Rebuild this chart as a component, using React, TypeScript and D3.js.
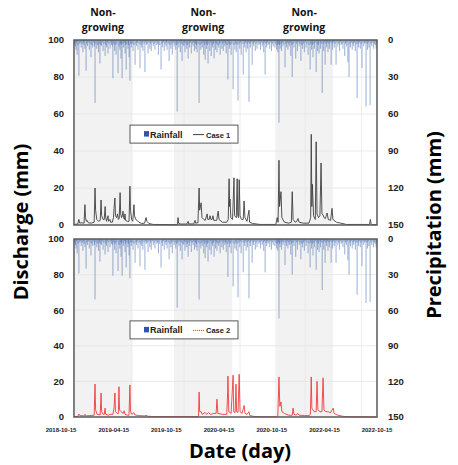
import React from 'react';
import * as d3 from 'd3';

// day 0 = 2018-10-15
const dateLabels = ['2018-10-15', '2019-04-15', '2019-10-15', '2020-04-15', '2020-10-15', '2022-04-15', '2022-10-15'];
const dateLabelDays = [0, 183, 365, 548, 731, 914, 1096];
const nonGrowing = [[45, 246], [392, 594], [743, 944]];
const gridDays = [246, 427, 621, 847, 1042];
const dischargeTicks = [0, 20, 40, 60, 80, 100];
const precipTicks = [0, 30, 60, 90, 120, 150];

// [day, mm]
const rainfall = [
  [47, 3], [50, 5], [52, 8], [54, 2], [56, 12], [59, 4], [62, 29], [65, 3], [67, 2], [70, 6], [73, 3], [76, 10], [78, 2], [80, 4], [83, 7],
  [87, 25], [89, 3], [92, 5], [95, 2], [98, 8], [101, 3], [104, 14], [107, 4], [110, 6], [113, 2], [116, 5], [118, 51], [121, 3], [124, 7],
  [127, 4], [130, 10], [133, 3], [135, 19], [138, 4], [140, 5], [143, 2], [146, 9], [149, 3], [153, 13], [155, 4], [158, 6], [161, 2],
  [163, 11], [166, 3], [170, 7], [173, 2], [175, 4], [178, 5], [180, 31], [183, 3], [186, 9], [188, 4], [191, 12], [194, 3], [198, 27],
  [201, 5], [204, 8], [206, 3], [208, 15], [210, 4], [212, 31], [215, 3], [217, 6], [220, 2], [222, 11], [224, 4], [226, 24], [229, 3],
  [232, 7], [234, 4], [236, 14], [239, 33], [242, 3], [244, 6], [247, 3], [250, 9], [253, 4], [257, 20], [260, 3], [262, 5], [265, 2],
  [267, 8], [271, 3], [274, 23], [277, 4], [280, 6], [282, 2], [284, 9], [288, 3], [291, 26], [294, 2], [296, 4], [299, 3], [302, 11],
  [305, 2], [308, 7], [311, 3], [313, 9], [317, 2], [320, 5], [323, 3], [326, 8], [329, 2], [332, 4], [335, 3], [338, 12], [342, 4],
  [347, 24], [350, 3], [352, 6], [355, 2], [358, 9], [361, 3], [364, 5], [366, 2], [368, 8], [372, 3], [375, 17], [378, 4], [381, 7],
  [384, 3], [386, 12], [389, 2], [392, 5], [395, 3], [398, 8], [401, 4], [403, 58], [406, 3], [409, 6], [412, 2], [414, 10], [417, 3],
  [420, 17], [423, 4], [426, 5], [428, 2], [430, 10], [433, 3], [436, 7], [438, 4], [441, 15], [444, 3], [446, 6], [449, 2], [452, 11],
  [455, 3], [458, 5], [460, 2], [463, 9], [466, 3], [468, 7], [470, 4], [472, 10], [476, 3], [479, 51], [482, 4], [485, 8], [488, 3],
  [490, 6], [493, 2], [495, 12], [498, 4], [500, 16], [503, 3], [505, 7], [508, 4], [510, 19], [513, 3], [516, 9], [519, 2], [521, 13],
  [524, 4], [526, 6], [529, 3], [531, 15], [534, 2], [536, 8], [539, 3], [541, 10], [544, 4], [547, 6], [550, 3], [552, 12], [555, 2],
  [558, 7], [561, 3], [563, 9], [566, 2], [568, 5], [571, 3], [573, 11], [576, 4], [579, 32], [582, 3], [584, 7], [587, 4], [590, 12],
  [593, 3], [597, 40], [600, 4], [603, 8], [606, 3], [608, 10], [611, 4], [614, 49], [617, 3], [620, 7], [622, 2], [625, 12], [628, 3],
  [632, 28], [635, 3], [637, 6], [640, 2], [642, 10], [645, 3], [647, 7], [650, 2], [652, 50], [655, 3], [657, 6], [660, 2], [663, 20],
  [666, 3], [668, 5], [671, 2], [674, 9], [677, 3], [680, 7], [683, 2], [686, 4], [689, 3], [692, 8], [695, 2], [698, 5], [701, 3],
  [703, 10], [706, 2], [708, 28], [711, 3], [713, 6], [716, 2], [718, 4], [721, 3], [724, 7], [727, 2], [730, 9], [733, 3], [736, 5],
  [739, 2], [742, 6], [745, 3], [748, 8], [750, 4], [752, 10], [754, 3], [756, 67], [758, 4], [760, 7], [763, 3], [765, 9], [768, 2],
  [770, 5], [773, 3], [777, 22], [780, 3], [782, 6], [785, 2], [787, 8], [790, 3], [792, 5], [795, 2], [797, 13], [800, 4], [802, 30],
  [805, 3], [808, 6], [811, 2], [814, 15], [817, 3], [820, 9], [823, 2], [826, 5], [829, 3], [832, 17], [835, 4], [838, 7], [841, 3],
  [844, 10], [847, 2], [850, 6], [853, 3], [857, 12], [860, 4], [864, 24], [866, 3], [869, 8], [872, 4], [874, 14], [877, 3], [879, 7],
  [882, 2], [885, 26], [888, 3], [890, 9], [893, 4], [895, 11], [898, 2], [900, 7], [903, 3], [906, 43], [909, 3], [911, 9], [914, 2],
  [916, 20], [919, 3], [921, 6], [924, 2], [926, 10], [929, 3], [931, 7], [934, 2], [937, 20], [940, 3], [942, 8], [945, 2], [948, 6],
  [951, 3], [954, 20], [957, 2], [960, 5], [963, 3], [966, 9], [969, 2], [972, 4], [975, 3], [978, 7], [981, 2], [984, 13], [987, 3],
  [990, 5], [993, 2], [995, 18], [999, 30], [1002, 3], [1004, 6], [1007, 2], [1010, 8], [1013, 3], [1015, 5], [1018, 2], [1021, 9],
  [1024, 3], [1027, 47], [1030, 3], [1032, 6], [1035, 2], [1038, 7], [1041, 3], [1044, 23], [1047, 2], [1050, 5], [1053, 3], [1055, 2],
  [1058, 54], [1061, 3], [1063, 8], [1066, 2], [1068, 6], [1072, 53], [1075, 3], [1078, 5], [1081, 2], [1084, 7], [1087, 3], [1090, 4],
  [1093, 7], [1095, 3],
];

// [day, mm]
const case1 = [
  [45, 0.3], [58, 0.5], [62, 3], [65, 1], [70, 1.2], [80, 1], [83, 11], [85, 4], [88, 2], [90, 2.5], [95, 1.2], [105, 1], [115, 1.5],
  [118, 20], [120, 8], [124, 3], [130, 2], [136, 2.5], [139, 13.5], [141, 5], [146, 3], [150, 3], [153, 10], [155, 4], [158, 2], [163, 5],
  [165, 2], [170, 3], [172, 1.5], [178, 1.5], [182, 4], [184, 9], [187, 14.6], [189, 5], [193, 4], [196, 6], [199, 3], [202, 3.5],
  [205, 17.5], [207, 6], [210, 4], [213, 5], [215, 7.5], [217, 4], [220, 3], [222, 6], [224, 2.5], [230, 2], [236, 2], [239, 21], [241, 8],
  [245, 3], [249, 2], [253, 11], [255, 5], [259, 3], [264, 2.5], [270, 1.5], [280, 0.8], [290, 1], [295, 4], [298, 2], [305, 0.8],
  [320, 0.3], [400, 0.2], [404, 0.3], [406, 4], [408, 1], [415, 0.5], [436, 0.5], [441, 2], [443, 0.6], [460, 0.5], [465, 2.5], [467, 1],
  [475, 1.2], [479, 20], [481, 8], [486, 12], [489, 4], [495, 3], [500, 2.5], [507, 6], [509, 3], [514, 3], [517, 5], [520, 3], [524, 3],
  [527, 5], [530, 2.5], [540, 2.5], [545, 7.5], [548, 3], [560, 1.5], [575, 1.5], [580, 3], [583, 25], [585, 10], [586, 14], [589, 4],
  [595, 3], [600, 25.5], [602, 5], [608, 4], [611, 25], [613, 5], [616, 4], [618, 24.5], [621, 5], [626, 3], [632, 3], [635, 13], [638, 4],
  [645, 2], [652, 8], [654, 1.5], [665, 0.8], [690, 0.3], [745, 0.3], [750, 4], [753, 1.5], [756, 35], [758, 10], [763, 18], [766, 4],
  [775, 1.5], [790, 1], [799, 1.5], [802, 18], [805, 3], [812, 1.5], [818, 2], [822, 3.5], [826, 1.5], [840, 1], [860, 1], [866, 4],
  [868, 49], [870, 10], [872, 22], [876, 5], [882, 3], [885, 45], [888, 6], [893, 4], [898, 5], [902, 33.5], [905, 6], [909, 5.5], [912, 4],
  [917, 3.5], [920, 5], [923, 6.5], [927, 3], [935, 2.5], [940, 9], [943, 3], [955, 1.5], [970, 1], [990, 0.3], [1070, 0.3], [1073, 3],
  [1076, 0.3], [1096, 0.2],
];

const case2 = [
  [45, 0.2], [58, 0.3], [62, 1.7], [65, 0.8], [80, 0.6], [83, 1.5], [86, 0.6], [100, 0.8], [115, 1], [118, 18.5], [120, 4], [125, 1.5],
  [136, 1.2], [139, 13.5], [141, 3], [146, 1.5], [150, 1.5], [153, 5], [155, 1.5], [165, 1], [170, 1.5], [180, 1.5], [184, 5], [187, 13.5],
  [189, 3], [195, 2], [199, 2], [201, 17], [203, 4], [208, 3], [212, 2.5], [216, 2], [219, 3.5], [222, 1.5], [230, 1], [236, 1], [239, 18],
  [241, 3], [246, 1.5], [253, 2.5], [256, 1.2], [270, 0.8], [290, 0.6], [295, 1], [300, 0.5], [320, 0.2], [475, 0.2], [477, 0.5], [479, 14],
  [481, 3], [486, 3], [490, 1.5], [500, 2.5], [505, 1.5], [512, 2.5], [518, 1.5], [530, 2], [538, 2], [541, 10], [544, 2], [560, 1.5],
  [575, 1.5], [578, 14], [579, 23], [582, 3], [590, 2], [597, 23.5], [599, 3], [604, 2.5], [607, 18.5], [609, 3], [614, 2.5], [618, 24],
  [621, 3], [628, 2], [635, 6.5], [638, 2], [645, 1.5], [652, 3], [655, 0.8], [670, 0.3], [700, 0.1], [745, 0.1], [752, 0.5], [756, 22.5],
  [759, 6], [763, 8.5], [766, 3], [775, 2], [790, 1], [802, 1], [805, 5], [808, 1.5], [815, 1], [822, 2], [826, 1], [845, 0.8], [860, 0.8],
  [865, 1.5], [868, 22.5], [870, 5], [874, 4], [878, 3], [885, 3], [888, 20], [891, 4], [898, 3], [905, 3], [909, 22], [912, 4], [918, 3],
  [925, 3], [935, 2.5], [944, 5], [947, 2], [960, 1], [980, 0.3], [1000, 0.1], [1096, 0],
];

const x = d3.scaleLinear().domain([0, 1096]).range([61, 377]);
const xLeft = x(45);
const xRight = x(1096);

const tickFont = '"Liberation Sans", Arial, sans-serif';
const titleFont = '"Open Sans", "Noto Sans", sans-serif';

function Panel({ top, bottom, series, color, label, dotted }) {
  const y = d3.scaleLinear().domain([0, 100]).range([bottom, top]);
  const yr = d3.scaleLinear().domain([0, 150]).range([top, bottom]);
  const line = d3.line().x(d => x(d[0])).y(d => y(d[1]));
  const lx = 130;
  const ly = top + (bottom - top) * 0.46;
  return (
    <g>
      {nonGrowing.map((b, i) => (
        <rect key={i} x={x(b[0])} y={top} width={x(b[1]) - x(b[0])} height={bottom - top} fill="#f2f2f2" />
      ))}
      {dischargeTicks.slice(1, -1).map(t => (
        <line key={t} x1={xLeft} x2={xRight} y1={y(t)} y2={y(t)} stroke="#e4e4e4" strokeWidth={0.8} />
      ))}
      {gridDays.map(d => (
        <line key={d} x1={x(d)} x2={x(d)} y1={top} y2={bottom} stroke="#e8e8e8" strokeWidth={0.8} />
      ))}
      {rainfall.map((r, i) => (
        <line key={i} x1={x(r[0])} x2={x(r[0])} y1={top} y2={yr(r[1])} stroke="#24519f" strokeOpacity={0.42} strokeWidth={1.1} />
      ))}
      <path d={line(series)} fill="none" stroke={color} strokeWidth={0.9} strokeLinejoin="round" />
      <rect x={xLeft} y={top} width={xRight - xLeft} height={bottom - top} fill="none" stroke="#595959" strokeWidth={1.5} />
      {dischargeTicks.map(t => (
        <text key={t} x={64} y={y(t)} dy="0.35em" textAnchor="end" fontFamily={tickFont} fontWeight="bold" fontSize={9.5} fill="#222">{t}</text>
      ))}
      {precipTicks.map(t => (
        <text key={t} x={388} y={yr(t)} dy="0.35em" textAnchor="start" fontFamily={tickFont} fontWeight="bold" fontSize={9.5} fill="#222">{t}</text>
      ))}
      <g transform={`translate(${lx},${ly})`}>
        <rect x={0} y={0} width={108} height={18} fill="#fff" stroke="#595959" strokeWidth={1} />
        <rect x={14} y={6} width={5} height={5.5} fill="#2f55a4" />
        <text x={20} y={12.5} fontFamily={tickFont} fontWeight="bold" fontSize={9} fill="#222">Rainfall</text>
        <line x1={63} x2={74} y1={9.5} y2={9.5} stroke={color} strokeWidth={1} strokeDasharray={dotted ? '1.2 0.8' : null} />
        <text x={76} y={12.5} fontFamily={tickFont} fontWeight="bold" fontSize={7.5} fill="#222">{label}</text>
      </g>
    </g>
  );
}

export default function App() {
  return (
    <svg width={458} height={465} style={{ position: 'absolute', left: 0, top: 0, background: '#fff' }}>
      <rect width={458} height={465} fill="#fff" />
      {nonGrowing.map((b, i) => (
        <text key={i} x={(x(b[0]) + x(b[1])) / 2} textAnchor="middle" fontFamily={titleFont} fontWeight="bold" fontSize={10.5} fill="#111">
          <tspan x={(x(b[0]) + x(b[1])) / 2} y={16}>Non-</tspan>
          <tspan x={(x(b[0]) + x(b[1])) / 2} y={31}>growing</tspan>
        </text>
      ))}
      <Panel top={40} bottom={225} series={case1} color="#404040" label="Case 1" dotted={false} />
      <Panel top={239} bottom={417} series={case2} color="#f03c3c" label="Case 2" dotted={true} />
      {dateLabels.map((l, i) => (
        <text key={l} x={x(dateLabelDays[i])} y={432} textAnchor="middle" fontFamily={tickFont} fontWeight="bold" fontSize={6} fill="#222">{l}</text>
      ))}
      <text x={240} y={458} textAnchor="middle" fontFamily={titleFont} fontWeight="bold" fontSize={20} fill="#000">Date (day)</text>
      <text transform="translate(28,222) rotate(-90)" textAnchor="middle" fontFamily={titleFont} fontWeight="bold" fontSize={20} fill="#000">Discharge (mm)</text>
      <text transform="translate(441,225) rotate(-90)" textAnchor="middle" fontFamily={titleFont} fontWeight="bold" fontSize={20} fill="#000">Precipitation (mm)</text>
    </svg>
  );
}
